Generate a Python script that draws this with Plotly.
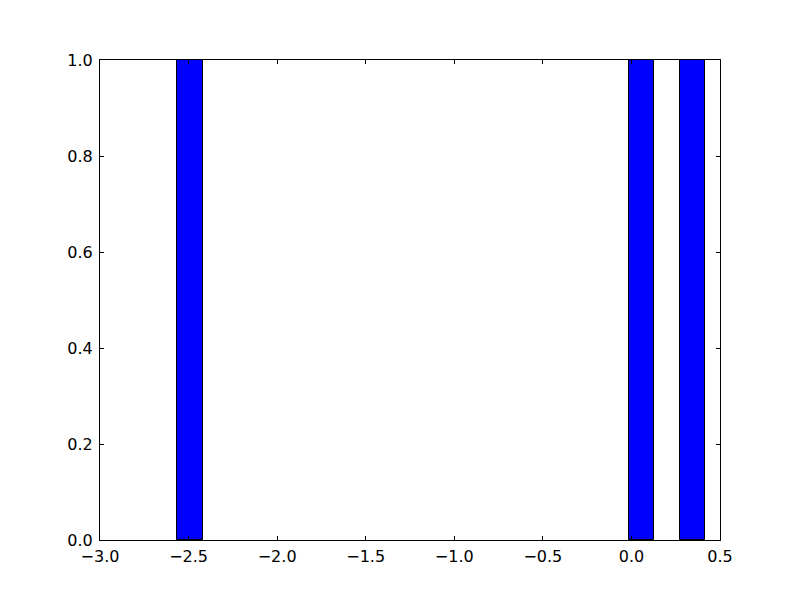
import plotly.graph_objects as go

bin_centers = [-2.492, 0.057, 0.345]
counts = [1, 1, 1]
bin_width = 0.146
x_ticks = [-3.0, -2.5, -2.0, -1.5, -1.0, -0.5, 0.0, 0.5]
y_ticks = [0.0, 0.2, 0.4, 0.6, 0.8, 1.0]

fig = go.Figure(go.Bar(
    x=bin_centers, y=counts, width=[bin_width] * len(bin_centers),
    marker=dict(color="#0000ff", line=dict(color="black", width=1)),
))

axis_common = dict(
    showline=True, linecolor="black", linewidth=1, mirror="ticks",
    ticks="inside", ticklen=4, tickcolor="black", tickwidth=1,
    showgrid=False, zeroline=False, tickformat=".1f",
    tickfont=dict(family="DejaVu Sans", size=16, color="black"),
)

fig.update_xaxes(range=[-3.0, 0.5], tickvals=x_ticks, ticklabelstandoff=2, **axis_common)
fig.update_yaxes(range=[0.0, 1.0], tickvals=y_ticks, ticklabelstandoff=3, **axis_common)

fig.update_layout(
    width=800, height=600,
    margin=dict(l=92, r=88, t=52, b=68),
    paper_bgcolor="white", plot_bgcolor="white",
    showlegend=False, bargap=0,
)

fig.write_html("out.html")
